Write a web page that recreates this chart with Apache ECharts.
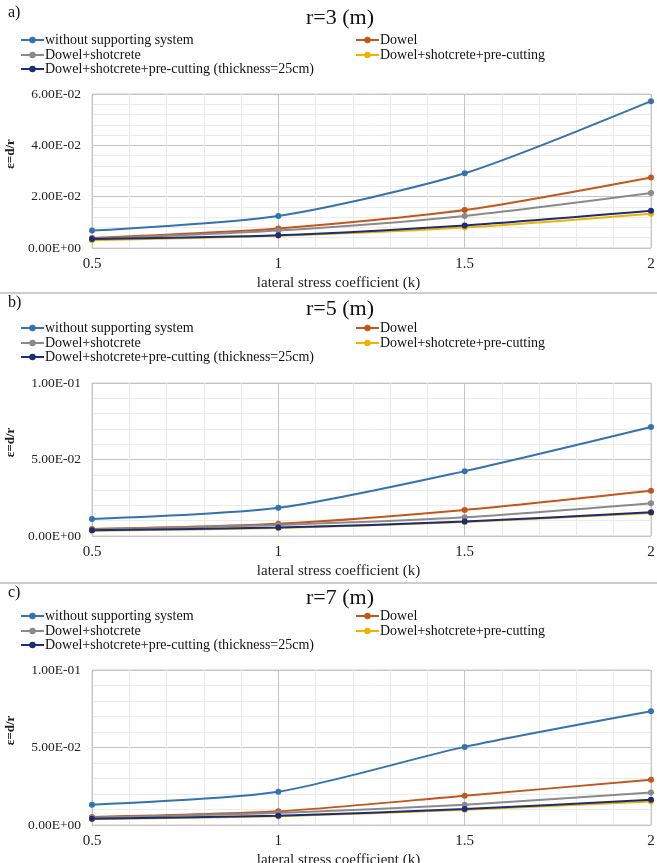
<!DOCTYPE html>
<html><head><meta charset="utf-8">
<script src="https://cdn.jsdelivr.net/npm/echarts@6/dist/echarts.min.js"></script>
<style>html,body{margin:0;padding:0;background:#fff}#c{width:657px;height:863px}</style>
</head><body><div id="c"></div>
<script>
const kValues = [0.5, 1, 1.5, 2];
const seriesNames = ['without supporting system','Dowel','Dowel+shotcrete','Dowel+shotcrete+pre-cutting','Dowel+shotcrete+pre-cutting (thickness=25cm)'];
const colors = ['#3572b0','#c5561b','#8a8a8a','#f0b400','#1c2d78'];
const panelLabels = ['a)','b)','c)'];
const panelTitles = ['r=3 (m)','r=5 (m)','r=7 (m)'];
const xTickLabels = ['0.5','1','1.5','2'];
const xName = 'lateral stress coefficient (k)';
const yName = 'ε=d/r';
const yMax = [0.06, 0.1, 0.1];
const yInterval = [0.02, 0.05, 0.05];

// r = 3 m
const r3_without = [0.0068, 0.0125, 0.0291, 0.0572];
const r3_dowel = [0.0039, 0.0076, 0.0148, 0.0275];
const r3_shot = [0.0036, 0.0068, 0.0125, 0.0214];
const r3_precut = [0.0030, 0.0048, 0.0080, 0.0133];
const r3_precut25 = [0.0035, 0.0050, 0.0088, 0.0145];
// r = 5 m
const r5_without = [0.0111, 0.0184, 0.0424, 0.0712];
const r5_dowel = [0.0046, 0.0080, 0.0170, 0.0295];
const r5_shot = [0.0042, 0.0072, 0.0122, 0.0214];
const r5_precut = [0.0035, 0.0052, 0.0092, 0.0150];
const r5_precut25 = [0.0038, 0.0055, 0.0094, 0.0155];
// r = 7 m
const r7_without = [0.0131, 0.0215, 0.0504, 0.0734];
const r7_dowel = [0.0052, 0.0088, 0.0189, 0.0292];
const r7_shot = [0.0048, 0.0078, 0.0131, 0.0210];
const r7_precut = [0.0038, 0.0057, 0.0098, 0.0152];
const r7_precut25 = [0.0041, 0.0060, 0.0103, 0.0163];

const panels = [
  [r3_without, r3_dowel, r3_shot, r3_precut, r3_precut25],
  [r5_without, r5_dowel, r5_shot, r5_precut, r5_precut25],
  [r7_without, r7_dowel, r7_shot, r7_precut, r7_precut25]
];

// layout
const gridTops = [94, 383, 670];
const gridHeights = [154, 153, 155];
const labelY = [14, 304, 594];
const titleY = [18, 309, 598];
const legendRows = [[41, 56, 70], [329, 344, 358], [617, 632, 646]];
const FONT = '"Liberation Serif", "DejaVu Serif", serif';

function fmtExp(v) {
  if (v === 0) return '0.00E+00';
  const e = Math.floor(Math.log10(Math.abs(v)) + 1e-9);
  const m = v / Math.pow(10, e);
  const sign = e < 0 ? '-' : '+';
  const ae = Math.abs(e);
  return m.toFixed(2) + 'E' + sign + (ae < 10 ? '0' + ae : ae);
}

const grids = [], xAxes = [], yAxes = [], series = [], legends = [], graphics = [];
for (let p = 0; p < 3; p++) {
  grids.push({left: 92, right: 6, top: gridTops[p], height: gridHeights[p], show: true, borderColor: '#cfcfcf', borderWidth: 1, containLabel: false, outerBoundsMode: 'none'});
  xAxes.push({
    type: 'value', gridIndex: p, min: 0.5, max: 2, interval: 0.5,
    axisLine: {show: false}, axisTick: {show: false},
    axisLabel: {fontFamily: FONT, fontSize: 15, color: '#222', margin: 9,
      formatter: v => xTickLabels[kValues.indexOf(v)] ?? String(v)},
    splitLine: {show: true, lineStyle: {color: '#c4c4c4', width: 1}},
    minorTick: {show: false, splitNumber: 5},
    minorSplitLine: {show: true, lineStyle: {color: '#ebebeb', width: 1}},
    name: xName, nameLocation: 'middle', nameGap: 28,
    nameTextStyle: {fontFamily: FONT, fontSize: 15, color: '#222', padding: [0, 66, 0, 0]}
  });
  yAxes.push({
    type: 'value', gridIndex: p, min: 0, max: yMax[p], interval: yInterval[p],
    axisLine: {show: false}, axisTick: {show: false},
    axisLabel: {fontFamily: FONT, fontSize: 13.5, color: '#222', margin: 11, formatter: fmtExp},
    splitLine: {show: true, lineStyle: {color: '#c4c4c4', width: 1}},
    minorTick: {show: false, splitNumber: 5},
    minorSplitLine: {show: true, lineStyle: {color: '#ebebeb', width: 1}},
    name: yName, nameLocation: 'middle', nameGap: 67, nameRotate: 90,
    nameTextStyle: {fontFamily: FONT, fontSize: 13, color: '#222', fontWeight: 'bold', padding: [0, 0, 0, 34]}
  });
  panels[p].forEach((vals, i) => {
    series.push({
      type: 'line', name: seriesNames[i], xAxisIndex: p, yAxisIndex: p,
      data: kValues.map((k, j) => [k, vals[j]]),
      smooth: 0.25, symbol: 'circle', symbolSize: 6,
      lineStyle: {color: colors[i], width: 2},
      itemStyle: {color: colors[i]},
      z: 10 - (i === 3 ? 1 : 0)
    });
  });
  const pos = [[20, 0], [355, 0], [20, 1], [355, 1], [20, 2]];
  seriesNames.forEach((n, i) => {
    legends.push({
      data: [n], left: pos[i][0], top: legendRows[p][pos[i][1]] - 8,
      itemWidth: 23, itemHeight: 8, padding: 0, itemGap: 2,
      textStyle: {fontFamily: FONT, fontSize: 14, color: '#111', padding: [0, 0, 0, -4]}
    });
  });
  graphics.push({type: 'text', left: 8, top: labelY[p] - 9, style: {text: panelLabels[p], font: '16px ' + FONT, fill: '#111'}});
  graphics.push({type: 'text', x: 340, y: titleY[p], style: {text: panelTitles[p], font: '22px ' + FONT, fill: '#111', align: 'center', verticalAlign: 'middle'}});
}
graphics.push({type: 'line', shape: {x1: 0, y1: 293, x2: 657, y2: 293}, style: {stroke: '#bdbdbd', lineWidth: 1.5}});
graphics.push({type: 'line', shape: {x1: 0, y1: 583, x2: 657, y2: 583}, style: {stroke: '#bdbdbd', lineWidth: 1.5}});

const chart = echarts.init(document.getElementById('c'), null, {renderer: 'canvas'});
chart.setOption({
  backgroundColor: '#fff',
  animation: false,
  grid: grids, xAxis: xAxes, yAxis: yAxes, series: series,
  legend: legends, graphic: graphics
});
</script></body></html>
